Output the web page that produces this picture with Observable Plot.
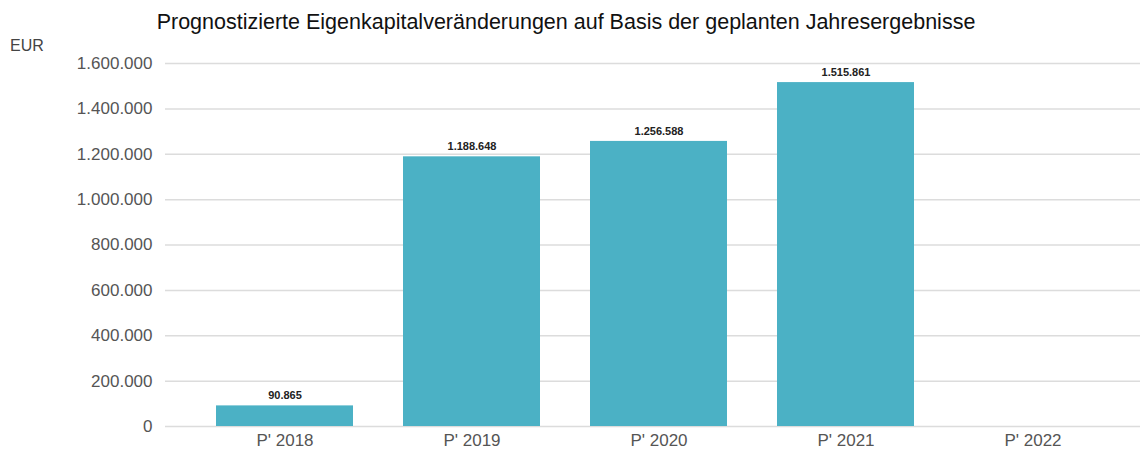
<!DOCTYPE html>
<html><head><meta charset="utf-8">
<script src="https://cdn.jsdelivr.net/npm/d3@7"></script>
<script src="https://cdn.jsdelivr.net/npm/@observablehq/plot@0.6"></script>
<style>
body{margin:0;background:#fff;font-family:"Liberation Sans",Arial,sans-serif;}
#wrap{position:relative;width:1140px;height:450px;}
#title{position:absolute;top:10px;left:0;width:1132px;text-align:center;font-size:21.5px;color:#111;line-height:1.15;z-index:2;}
#unit{position:absolute;top:37px;left:10px;font-size:16px;color:#444;z-index:2;}
#chart{position:absolute;top:38px;left:0;z-index:1;}
</style></head>
<body>
<div id="wrap">
<div id="title">Prognostizierte Eigenkapitalveränderungen auf Basis der geplanten Jahresergebnisse</div>
<div id="unit">EUR</div>
<div id="chart"></div>
</div>
<script>
const categories = ["P' 2018","P' 2019","P' 2020","P' 2021","P' 2022"];
const values = [90865, 1188648, 1256588, 1515861, null];
const yTicks = [0,200000,400000,600000,800000,1000000,1200000,1400000,1600000];

const de = d3.formatLocale({decimal:",", thousands:".", grouping:[3], currency:["","€"]});
const fmt = de.format(",d");
const data = categories.map((c,i)=>({cat:c, v:values[i]}));
const bars = data.filter(d=>d.v!=null);

const chart = Plot.plot({
  width:1140, height:412,
  marginLeft:165, marginRight:0, marginTop:25, marginBottom:24,
  style:{fontFamily:"Liberation Sans, Arial, sans-serif", background:"transparent", overflow:"visible"},
  x:{domain:categories, paddingInner:0.27, paddingOuter:0.135, insetLeft:25, insetRight:13, label:null},
  y:{domain:[0,1600000], ticks:yTicks, label:null},
  marks:[
    Plot.ruleY(yTicks,{stroke:"#dcdcdc", strokeWidth:1.5}),
    Plot.barY(bars,{x:"cat", y:"v", fill:"#4BB1C5"}),
    Plot.text(bars,{x:"cat", y:"v", text:d=>fmt(d.v), dy:-10, fontSize:11, fontWeight:"bold", fill:"#222"}),
    Plot.axisY({ticks:yTicks, tickFormat:fmt, tickSize:0, tickPadding:13, fontSize:17, fill:"#555", label:null}),
    Plot.axisX({tickSize:0, tickPadding:7, fontSize:17, fill:"#555", label:null})
  ]
});
document.getElementById("chart").appendChild(chart);
</script>
</body></html>
